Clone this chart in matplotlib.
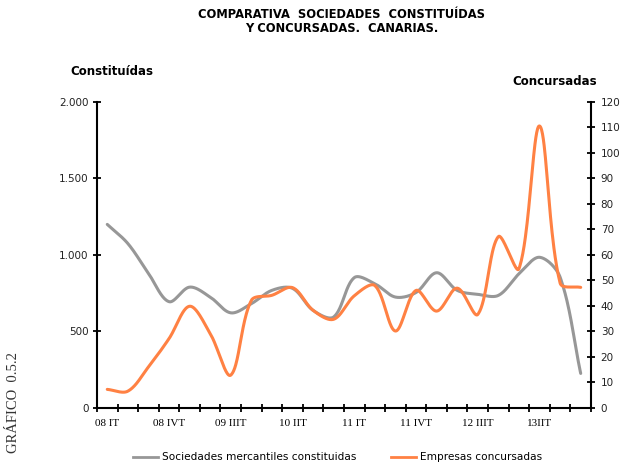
import numpy as np
import matplotlib
matplotlib.use("Agg")
import matplotlib.pyplot as plt
from matplotlib.lines import Line2D

# quarters 2008 Q1 .. 2013 Q4
quarters = ["08 IT", "08 IIT", "08 IIIT", "08 IVT",
            "09 IT", "09 IIT", "09 IIIT", "09 IVT",
            "10 IT", "10 IIT", "10 IIIT", "10 IVT",
            "11 IT", "11 IIT", "11 IIIT", "11 IVT",
            "12 IT", "12 IIT", "12 IIIT", "12 IVT",
            "13 IT", "13IIT", "13 IIIT", "13 IVT"]
constituidas = [1200, 1075, 880, 695, 790, 725, 622, 682, 769, 782, 638, 595,
                852, 812, 725, 755, 884, 769, 743, 736, 877, 985, 855, 226]
concursadas = [7.3, 6.6, 16.1, 27.2, 39.9, 29.2, 12.9, 42.2, 44.2, 47.2, 38.3, 34.8,
               44.0, 48.0, 30.2, 46.1, 38.0, 47.0, 36.7, 67.2, 54.6, 110.6, 49.0, 47.3]
label_every = 3
left_ticks = [0, 500, 1000, 1500, 2000]
left_labels = ["0", "500", "1.000", "1.500", "2.000"]
right_ticks = list(range(0, 121, 10))

GRAY = "#979797"
ORANGE = "#FF8143"

AX_RECT = [0.1554, 0.1188, 0.7917, 0.6609]
FIG_W, FIG_H = 624, 463


def smooth(y, ymax, n=40):
    # Excel-like smoothed line: bezier through the points, control arms
    # scaled by neighbouring segment lengths measured in pixels
    y = np.asarray(y, dtype=float)
    npt = len(y)
    sx = AX_RECT[2] * FIG_W / npt
    sy = AX_RECT[3] * FIG_H / ymax
    P = np.column_stack([np.arange(npt) * sx, y * sy])
    cout = np.zeros_like(P)
    cin = np.zeros_like(P)
    for i in range(npt):
        prev = P[max(i - 1, 0)]
        nxt = P[min(i + 1, npt - 1)]
        d = nxt - prev
        l1 = np.hypot(*(P[i] - prev))
        l2 = np.hypot(*(nxt - P[i]))
        tot = l1 + l2 if l1 + l2 > 0 else 1.0
        cout[i] = P[i] + d / 3 * l2 / tot
        cin[i] = P[i] - d / 3 * l1 / tot
    t = np.linspace(0, 1, n)[:, None]
    pts = []
    for i in range(npt - 1):
        b = (1 - t) ** 3 * P[i] + 3 * (1 - t) ** 2 * t * cout[i] \
            + 3 * (1 - t) * t ** 2 * cin[i + 1] + t ** 3 * P[i + 1]
        pts.append(b)
    pts = np.vstack(pts)
    return pts[:, 0] / sx, pts[:, 1] / sy


fig = plt.figure(figsize=(6.24, 4.63), dpi=100)
ax = fig.add_axes(AX_RECT)
ax2 = ax.twinx()

gx, gy = smooth(constituidas, 2000)
ax.plot(gx, gy, color=GRAY, lw=2.2, solid_capstyle="round")
ox, oy = smooth(concursadas, 120)
ax2.plot(ox, oy, color=ORANGE, lw=2.2, solid_capstyle="round")

n = len(quarters)
ax.set_xlim(-0.5, n - 0.5)
ax.set_ylim(0, 2000)
ax2.set_ylim(0, 120)

ax.set_xticks(np.arange(-0.5, n, 1.0))
ax.set_xticklabels([])
ax.set_xticks(np.arange(0, n, label_every), minor=True)
ax.set_xticklabels(quarters[::label_every], minor=True,
                   fontfamily="Liberation Serif", fontsize=8)
ax.tick_params(axis="x", which="major", direction="inout", length=6, width=1.3)
ax.tick_params(axis="x", which="minor", length=0, pad=8)

ax.set_yticks(left_ticks)
ax.set_yticklabels(left_labels, fontsize=7.5, color="#222222")
ax.tick_params(axis="y", direction="inout", length=6, width=1.3, pad=3)
ax2.set_yticks(right_ticks)
ax2.set_yticklabels([str(v) for v in right_ticks], fontsize=7.5, color="#222222")
ax2.tick_params(axis="y", direction="inout", length=6, width=1.3, pad=4)

for a in (ax, ax2):
    a.spines["top"].set_visible(False)
    for s in ("left", "right", "bottom"):
        a.spines[s].set_linewidth(1.5)
ax.spines["right"].set_visible(False)
ax2.spines["left"].set_visible(False)
ax2.spines["bottom"].set_visible(False)

fig.text(0.547, 0.982, "COMPARATIVA  SOCIEDADES  CONSTITUÍDAS\nY CONCURSADAS.  CANARIAS.",
         ha="center", va="top", fontsize=8.3, fontweight="bold", linespacing=1.08)
fig.text(0.112, 0.845, "Constituídas", ha="left", va="center", fontsize=8.5, fontweight="bold")
fig.text(0.957, 0.825, "Concursadas", ha="right", va="center", fontsize=8.5, fontweight="bold")
fig.text(0.022, 0.13, "GRÁFICO  0.5.2", rotation=90, ha="center", va="center",
         fontfamily="Liberation Serif", fontsize=10.5, color="#333333")

handles = [Line2D([], [], color=GRAY, lw=2), Line2D([], [], color=ORANGE, lw=2)]
fig.legend(handles, ["Sociedades mercantiles constituidas", "Empresas concursadas"],
           loc="center", bbox_to_anchor=(0.541, 0.012), ncol=2, frameon=False,
           fontsize=7.6, handlelength=2.36, handletextpad=0.38, columnspacing=3.3)

fig.savefig("out.png", dpi=100)
